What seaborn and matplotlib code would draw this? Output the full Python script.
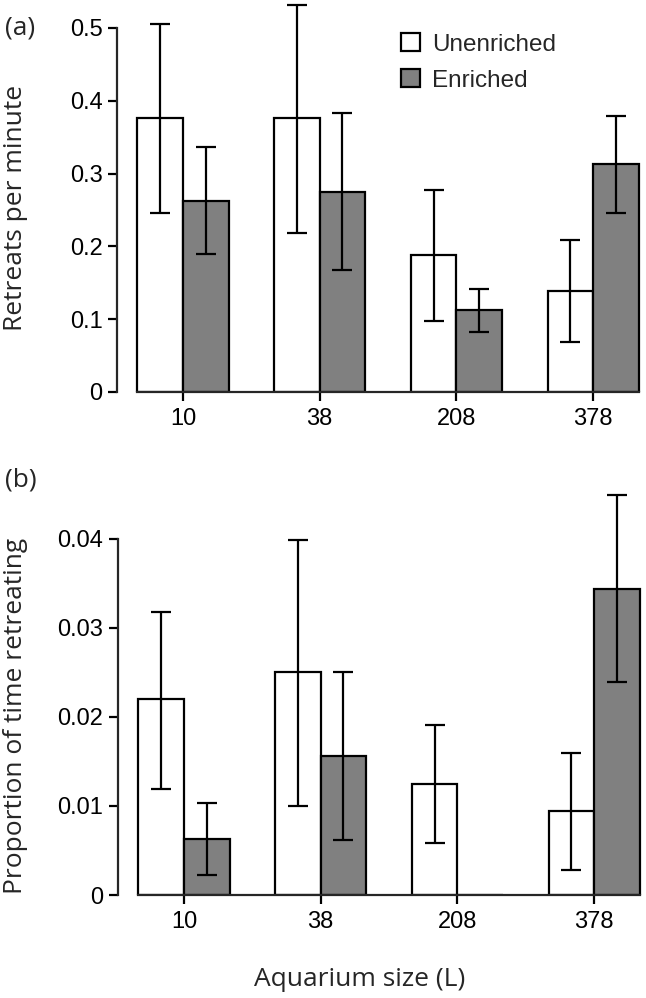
import numpy as np
import pandas as pd
import matplotlib
matplotlib.use("Agg")
import matplotlib.pyplot as plt
from matplotlib.patches import Patch
from matplotlib.ticker import FuncFormatter
import seaborn as sns

sizes = ["10", "38", "208", "378"]
treatments = ["Unenriched", "Enriched"]

# panel (a): retreats per minute
rate_unenriched = [0.376, 0.376, 0.188, 0.139]
rate_enriched = [0.263, 0.275, 0.113, 0.313]
rate_lo_unenriched = [0.246, 0.218, 0.098, 0.068]
rate_hi_unenriched = [0.505, 0.532, 0.277, 0.209]
rate_lo_enriched = [0.190, 0.167, 0.083, 0.246]
rate_hi_enriched = [0.336, 0.383, 0.142, 0.379]

# panel (b): proportion of time retreating
prop_unenriched = [0.0220, 0.0251, 0.0125, 0.0094]
prop_enriched = [0.0063, 0.0156, 0.0, 0.0344]
prop_lo_unenriched = [0.0119, 0.0100, 0.0058, 0.0028]
prop_hi_unenriched = [0.0318, 0.0399, 0.0191, 0.0159]
prop_lo_enriched = [0.0022, 0.0062, np.nan, 0.0239]
prop_hi_enriched = [0.0103, 0.0250, np.nan, 0.0449]

colors = {"Unenriched": "white", "Enriched": "#808080"}

sns.set_style("ticks")
plt.rcParams["font.family"] = ["Liberation Sans", "DejaVu Sans"]
label_font = "Open Sans"

W, H = 646, 998
fig = plt.figure(figsize=(W / 100, H / 100), dpi=100)


def make_frame(unen, enr):
    return pd.DataFrame({
        "size": sizes * 2,
        "treatment": ["Unenriched"] * 4 + ["Enriched"] * 4,
        "value": list(unen) + list(enr),
    })


def draw_panel(ax, df, lows, highs, ymax, ytop):
    sns.barplot(data=df, x="size", y="value", hue="treatment",
                order=sizes, hue_order=treatments, palette=colors,
                saturation=1, width=2 / 3, gap=0, edgecolor="black",
                linewidth=1.6, errorbar=None, legend=False, ax=ax)
    for cont, lo, hi, vals in zip(ax.containers, lows, highs,
                                  [df[df.treatment == t].value.values for t in treatments]):
        for bar, l, h, v in zip(cont, lo, hi, vals):
            if np.isnan(l):
                continue
            xc = bar.get_x() + bar.get_width() / 2
            ax.errorbar([xc], [v], yerr=[[v - l], [h - v]], fmt="none",
                        ecolor="black", elinewidth=1.6, capsize=7.5,
                        capthick=1.6, zorder=5, clip_on=False)
    ax.set_xlim(-0.483, 3.38)
    ax.set_ylim(0, ymax)
    ax.set_yticks(np.linspace(0, ytop, 5 if ytop < 0.1 else 6))
    ax.yaxis.set_major_formatter(FuncFormatter(lambda v, p: f"{v:g}"))
    sns.despine(ax=ax)
    ax.spines["left"].set_bounds(0, ytop)
    ax.spines["bottom"].set_bounds(-1 / 3, 3 + 1 / 3)
    for s in ("left", "bottom"):
        ax.spines[s].set_linewidth(1.6)
    ax.tick_params(axis="both", direction="out", length=6.5, width=1.6,
                   labelsize=17, colors="black")
    ax.tick_params(axis="y", pad=4)
    ax.tick_params(axis="x", pad=5)
    ax.set_xlabel("")
    ax.set_ylabel("")


ax1 = fig.add_axes([117 / W, 1 - 392 / H, 528 / W, 389.5 / H])
draw_panel(ax1, make_frame(rate_unenriched, rate_enriched),
           [rate_lo_unenriched, rate_lo_enriched],
           [rate_hi_unenriched, rate_hi_enriched], 0.535, 0.5)

ax2 = fig.add_axes([118 / W, 1 - 895 / H, 528 / W, 405 / H])
draw_panel(ax2, make_frame(prop_unenriched, prop_enriched),
           [prop_lo_unenriched, prop_lo_enriched],
           [prop_hi_unenriched, prop_hi_enriched], 0.0455, 0.04)

handles = [Patch(facecolor=colors[t], edgecolor="black", linewidth=1.6, label=t)
           for t in treatments]
fig.legend(handles=handles, loc="upper left",
           bbox_to_anchor=(401 / W, 1 - 33 / H), frameon=False,
           fontsize=17.5, borderpad=0, borderaxespad=0,
           handlelength=0.78, handleheight=0.78, handletextpad=0.5,
           labelspacing=0.55)

fig.text(5 / W, 1 - 28 / H, "(a)", fontsize=19, family=label_font,
         ha="left", va="center")
fig.text(5 / W, 1 - 480 / H, "(b)", fontsize=19, family=label_font,
         ha="left", va="center")
fig.text(16 / W, 1 - 208 / H, "Retreats per minute", fontsize=19,
         family=label_font, rotation=90, ha="center", va="center")
fig.text(16 / W, 1 - 716 / H, "Proportion of time retreating", fontsize=19,
         family=label_font, rotation=90, ha="center", va="center")
fig.text(359.5 / W, 1 - 979 / H, "Aquarium size (L)", fontsize=19,
         family=label_font, ha="center", va="center")

fig.savefig("out.png", dpi=100)
